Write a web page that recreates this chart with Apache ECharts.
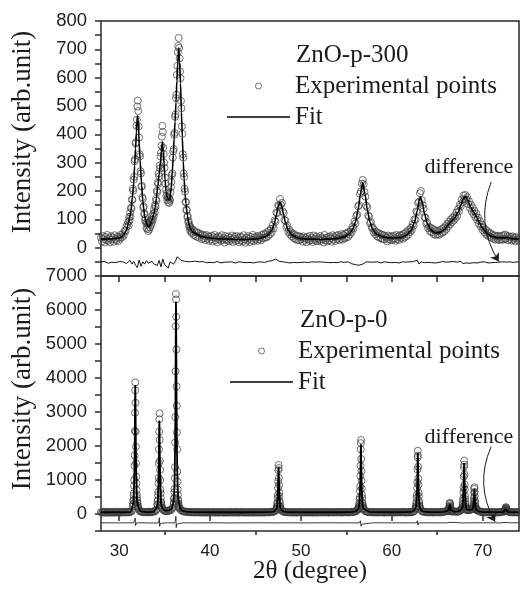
<!DOCTYPE html>
<html>
<head>
<meta charset="utf-8">
<title>ZnO XRD Rietveld fits</title>
<script src="https://cdn.jsdelivr.net/npm/echarts@6/dist/echarts.min.js"></script>
<style>
  html, body { margin: 0; padding: 0; background: #fff; }
  #chart { width: 520px; height: 590px; }
</style>
</head>
<body>
<div id="chart"></div>
<script>
// ---------------- ZnO-p-300 (upper panel) ----------------
// measured counts on a uniform 2θ grid, split into three scan segments
const p300ScanStart = [28.0, 31.0, 38.1];
const p300ScanStep = [0.1, 0.05, 0.1];
const p300ScanA = [
  35,22,41,30,18,38,27,45,24,33,
  19,40,29,36,21,44,31,26,39,23,
  37,31,46,36,48,42,60,58,74,82
];
const p300ScanB = [
  92,78,108,96,124,110,141,138,170,168,
  208,201,240,250,305,312,368,372,430,452,
  498,519,482,428,389,330,322,270,262,215,
  218,178,172,141,146,118,120,96,104,88,
  70,88,66,82,58,86,64,90,72,94,
  80,99,88,112,98,120,110,136,124,150,
  145,172,166,201,196,230,225,262,252,290,
  280,322,335,360,392,430,408,352,330,300,
  282,248,226,205,182,192,168,178,160,176,
  158,172,166,196,214,232,256,262,318,340,
  348,398,405,462,470,528,540,610,642,690,
  712,740,705,668,622,598,518,492,428,402,
  330,318,262,250,208,198,162,160,134,132,
  108,112,90,94,76,80,62,72,56,66,
  52
];
const p300ScanC = [
  64,45,58,41,55,38,52,35,49,44,
  30,46,33,42,27,45,31,40,24,38,
  29,42,22,36,45,26,34,19,40,30,
  37,24,44,28,33,18,41,30,25,39,
  22,35,28,43,20,32,38,24,41,27,
  34,19,40,26,36,22,44,29,17,35,
  25,41,31,20,38,27,45,23,36,30,
  39,24,42,29,37,26,45,33,48,35,
  48,36,55,41,60,47,66,55,80,68,
  96,92,124,122,150,148,172,152,158,128,
  122,98,95,72,78,56,64,46,55,40,
  50,34,46,30,42,27,41,26,39,29,
  36,21,40,28,34,19,38,30,24,42,
  27,35,20,43,31,25,39,22,33,28,
  41,24,36,30,18,45,27,34,22,38,
  26,40,33,21,44,29,37,24,42,31,
  45,27,40,31,48,28,44,33,50,36,
  52,38,56,46,63,55,74,68,92,85,
  112,116,146,150,190,198,226,239,224,196,
  180,148,142,114,110,86,90,70,72,55,
  62,47,55,40,52,36,49,33,46,30,
  44,29,41,35,22,43,30,38,26,40,
  28,42,33,24,45,30,39,27,44,35,
  44,31,48,36,52,40,58,46,63,55,
  70,62,84,78,100,98,128,125,158,162,
  192,200,168,150,138,108,106,84,88,68,
  74,58,70,54,66,48,62,45,60,47,
  58,45,62,50,66,54,70,58,76,66,
  84,74,92,82,100,90,106,96,112,104,
  124,112,136,128,152,146,170,160,184,172,
  186,170,178,154,164,140,152,128,142,118,
  130,108,120,98,106,84,94,74,82,62,
  72,54,64,47,58,42,54,38,50,35,
  45,31,43,28,40,30,42,27,39,29,
  42,28,44,30,46,32,41,26,40,30,
  38,25,40,29,35,22,37,26,34,28
];
// refined profile [2θ, intensity]
const p300Fit = [
  [28.0,30],[28.5,30],[29.0,31],[29.5,32],[30.0,35],[30.3,39],[30.6,50],[30.8,62],[31.0,85],[31.15,107],
  [31.3,130],[31.45,179],[31.6,228],[31.7,290],[31.8,350],[31.9,408],[32.0,465],[32.1,450],[32.2,370],[32.3,311],
  [32.45,228],[32.6,165],[32.7,138],[32.8,112],[32.9,98],[33.0,85],[33.2,74],[33.4,80],[33.6,96],[33.8,118],
  [33.95,140],[34.1,175],[34.25,218],[34.4,260],[34.55,303],[34.65,339],[34.75,374],[34.85,338],[34.95,294],[35.05,240],
  [35.15,199],[35.3,176],[35.45,169],[35.55,168],[35.65,188],[35.75,221],[35.85,270],[35.95,327],[36.05,385],[36.15,445],
  [36.25,512],[36.35,590],[36.45,655],[36.55,705],[36.65,655],[36.75,580],[36.85,480],[36.95,390],[37.05,305],[37.15,240],
  [37.25,190],[37.35,155],[37.5,115],[37.65,88],[37.8,70],[38.0,58],[38.3,52],[38.6,46],[39.0,40],[39.5,37],
  [40.0,34],[41,31],[42,30],[43,29],[44,29],[45,30],[45.5,33],[46.0,38],[46.4,46],[46.8,62],
  [47.1,88],[47.3,115],[47.5,145],[47.7,160],[47.9,145],[48.1,115],[48.3,88],[48.6,62],[49.0,45],[49.5,36],
  [50,32],[51,30],[52,29],[53,30],[54,32],[54.8,38],[55.3,48],[55.7,65],[56.0,90],[56.3,135],
  [56.55,190],[56.8,230],[57.05,190],[57.3,135],[57.6,90],[57.9,65],[58.3,48],[59.0,38],[60,34],[61,36],
  [61.6,44],[62.1,60],[62.5,90],[62.8,130],[63.0,165],[63.15,180],[63.35,160],[63.6,120],[63.9,85],[64.3,62],
  [64.8,52],[65.3,54],[65.8,64],[66.2,80],[66.5,92],[66.9,105],[67.3,125],[67.6,150],[67.85,172],[68.1,180],
  [68.35,168],[68.7,142],[69.0,125],[69.3,110],[69.6,90],[70.0,68],[70.5,50],[71.0,40],[71.6,35],[72.3,34],
  [72.6,36],[73,33],[73.5,31],[74,30]
];
// observed − calculated, drawn with an offset below the pattern (step 0.2° from 28°)
const p300DiffStart = 28.0;
const p300DiffStep = 0.2;
const p300Diff = [
  -50,-53,-49,-52,-55,-50,-51,-48,-53,-51,
  -49,-54,-50,-47,-56,-52,-45,-58,-48,-62,
  -70,-44,-66,-50,-58,-46,-55,-60,-48,-57,
  -52,-63,-45,-68,-40,-60,-56,-72,-50,-44,
  -58,-47,-32,-36,-45,-42,-48,-46,-50,-47,
  -49,-51,-48,-53,-50,-52,-49,-51,-53,-50,
  -52,-50,-53,-51,-49,-52,-54,-50,-51,-53,
  -51,-53,-50,-52,-54,-51,-50,-53,-52,-50,
  -53,-51,-52,-50,-54,-52,-51,-53,-50,-49,
  -52,-50,-48,-53,-46,-44,-40,-43,-48,-51,
  -50,-53,-52,-50,-54,-51,-52,-50,-53,-51,
  -52,-54,-51,-50,-53,-52,-50,-54,-51,-52,
  -50,-53,-51,-54,-52,-50,-53,-51,-52,-50,
  -53,-51,-50,-54,-52,-55,-50,-53,-57,-54,
  -60,-55,-62,-68,-58,-52,-50,-53,-51,-52,
  -51,-53,-50,-52,-54,-51,-50,-53,-52,-51,
  -53,-50,-52,-51,-54,-52,-50,-53,-51,-52,
  -50,-54,-49,-56,-44,-58,-50,-47,-53,-51,
  -52,-50,-53,-51,-54,-50,-52,-55,-49,-52,
  -51,-54,-50,-53,-49,-55,-51,-53,-48,-56,
  -50,-54,-49,-55,-51,-53,-50,-54,-52,-51,
  -53,-50,-52,-54,-51,-53,-50,-52,-54,-51,
  -52,-50,-53,-51,-52,-50,-53,-52,-51,-50,
  -52
];

// ---------------- ZnO-p-0 (lower panel) ----------------
// background scan, 0.1° steps from 28°; null where a reflection is scanned finely
const p0BgStart = 28.0;
const p0BgStep = 0.1;
const p0Background = [
  62,38,55,70,41,58,33,66,47,52,
  40,64,49,35,60,44,71,39,56,48,
  57,36,63,45,52,68,41,59,50,66,
  44,61,53,75,92,null,null,null,null,null,
  null,null,110,82,70,58,66,49,60,55,
  48,63,52,70,45,60,57,74,66,82,
  95,130,null,null,null,null,null,null,140,115,
  92,85,78,96,88,110,104,125,150,190,
  null,null,null,null,null,null,null,160,118,96,
  84,75,68,72,60,66,55,62,50,58,
  47,61,53,42,58,49,64,40,55,51,
  45,59,38,62,50,44,57,36,60,48,
  53,41,58,46,63,37,55,49,42,60,
  39,56,47,61,43,52,35,58,50,44,
  57,40,62,48,53,38,59,45,51,64,
  42,55,36,60,49,54,41,63,47,39,
  58,46,52,37,61,44,56,50,35,59,
  48,62,40,55,43,58,51,38,64,46,
  53,41,60,49,57,44,62,52,66,58,
  70,82,105,null,null,null,null,null,null,98,
  78,66,59,64,50,57,45,61,48,53,
  40,58,46,62,51,37,55,44,60,49,
  56,43,61,47,38,59,52,45,63,41,
  54,48,60,36,57,50,44,62,39,55,
  47,61,42,58,53,40,64,49,56,45,
  59,38,55,50,62,44,57,41,60,52,
  46,63,49,57,40,61,53,45,58,50,
  62,48,56,43,60,52,65,58,70,64,
  76,88,115,null,null,null,null,null,null,null,
  110,84,72,66,58,63,50,57,46,60,
  52,44,61,49,55,40,58,47,63,51,
  45,60,38,56,50,62,43,57,48,54,
  61,46,53,40,59,51,44,63,49,56,
  42,58,50,64,45,55,39,60,52,47,
  59,51,64,57,72,95,null,null,null,null,
  null,null,118,86,74,62,68,55,60,49,
  57,44,61,52,48,63,41,58,50,55,
  46,60,53,42,59,50,64,56,70,78,
  88,105,null,null,null,null,null,96,80,72,
  66,75,62,70,84,92,120,null,null,null,
  null,null,null,null,125,108,115,130,150,null,
  null,null,null,null,128,96,82,70,64,58,
  52,60,47,56,43,58,50,45,61,49,
  55,42,58,50,46,60,38,54,48,57,
  50,62,70,88,null,null,null,null,75,63,
  54,47,60,52,44,58,49,55,41,56,
  50
];
// fine scans (0.02° steps) across each wurtzite reflection
const p0PeakStep = 0.02;
const p0PeakStart = [31.50, 34.20, 36.00, 47.30, 56.30, 62.60, 66.20, 67.70, 68.90, 72.40];
const p0Peak100 = [225,290,300,395,410,540,610,830,1000,1420,1720,2440,2980,3640,3870,3270,2420,1980,1490,1100,900,700,560,480,410,330,310,240,230,190,170];
const p0Peak002 = [270,280,370,410,560,650,900,1060,1490,1900,2420,2785,2960,2180,1560,1300,1000,720,610,470,350,330,260,250,200,180];
const p0Peak101 = [290,350,440,470,640,740,1050,1380,2100,2850,4200,5520,6470,6310,5800,4840,3750,3180,2400,1900,1250,950,720,560,430,380,310,270,230,200,170];
const p0Peak102 = [125,160,165,210,230,300,340,470,550,760,960,1290,1440,1350,1060,850,630,520,380,330,240,220,170,170,135,120];
const p0Peak110 = [150,135,170,175,210,220,285,320,430,490,680,810,1120,1420,1900,2085,2175,1620,1260,980,750,560,470,340,300,240,230,180,175,150,140];
const p0Peak103 = [140,175,170,220,235,310,350,470,560,760,930,1310,1660,1860,1720,1390,1040,860,620,520,390,320,250,230,190,165];
const p0Peak200 = [85,80,105,100,140,150,195,220,290,330,310,250,210,160,145,110,105,85,88,70,76];
const p0Peak112 = [120,155,150,190,205,265,300,400,470,640,780,1100,1380,1570,1450,1160,870,720,530,440,330,280,215,200,165,160,130,135,118,125,112];
const p0Peak201 = [145,150,178,190,240,275,380,470,620,740,785,650,520,390,330,245,210,160,150,120,118];
const p0Peak004 = [78,70,88,85,112,120,155,170,200,190,150,140,108,100,80,84];
const p0Peaks = [p0Peak100, p0Peak002, p0Peak101, p0Peak102, p0Peak110, p0Peak103, p0Peak200, p0Peak112, p0Peak201, p0Peak004];

const p0Fit = [
  [28,52],[29,51],[30,52],[31,55],[31.3,65],
  [31.47,218],[31.57,387],[31.63,723],[31.67,1172],[31.70,1770],[31.73,2668],[31.75,3416],[31.77,3790],[31.79,3491],[31.81,2855],[31.84,1920],[31.87,1322],[31.91,798],[31.97,424],[32.07,237],
  [32.3,80],[33,58],[33.8,65],
  [34.12,172],[34.22,293],[34.28,536],[34.32,860],[34.35,1292],[34.38,1940],[34.40,2480],[34.42,2750],[34.44,2534],[34.46,2075],[34.49,1400],[34.52,968],[34.56,590],[34.62,320],[34.72,185],
  [35.0,95],[35.5,105],[35.8,160],
  [35.95,329],[36.05,608],[36.11,1166],[36.15,1910],[36.18,2902],[36.21,4390],[36.23,5630],[36.25,6250],[36.27,5754],[36.29,4700],[36.32,3150],[36.35,2158],[36.39,1290],[36.45,670],[36.55,360],
  [36.7,165],[36.9,100],[37.3,70],[38,55],[40,52],[42,52],[44,52],[46,54],[46.8,62],[47.1,80],
  [47.24,110],[47.34,170],[47.40,289],[47.44,449],[47.47,662],[47.50,981],[47.52,1247],[47.54,1380],[47.56,1274],[47.58,1048],[47.61,715],[47.64,502],[47.68,316],[47.74,183],[47.84,117],
  [48.1,70],[48.6,57],[50,52],[52,52],[54,52],[55.5,58],[56.0,75],[56.2,105],
  [56.30,140],[56.40,230],[56.46,410],[56.50,650],[56.53,970],[56.56,1450],[56.58,1850],[56.60,2050],[56.62,1890],[56.64,1550],[56.67,1050],[56.70,730],[56.74,450],[56.80,250],[56.90,150],
  [57.1,95],[57.5,65],[58.5,54],[60,52],[61.5,54],[62.2,66],[62.45,95],
  [62.56,129],[62.66,208],[62.72,365],[62.76,575],[62.79,855],[62.82,1275],[62.84,1625],[62.86,1800],[62.88,1660],[62.90,1363],[62.93,925],[62.96,645],[63.00,400],[63.06,225],[63.16,138],
  [63.4,80],[64,58],[65,55],[65.7,63],[65.95,78],
  [66.10,90],[66.24,110],[66.30,150],[66.34,225],[66.38,300],[66.42,238],[66.46,165],[66.52,105],[66.66,85],
  [66.9,72],[67.3,78],[67.55,105],
  [67.66,118],[67.76,181],[67.82,311],[67.86,485],[67.89,717],[67.92,1065],[67.94,1355],[67.96,1500],[67.98,1384],[68.00,1138],[68.03,775],[68.06,543],[68.10,340],[68.16,200],[68.26,135],
  [68.45,118],[68.65,120],
  [68.79,130],[68.89,145],[68.95,180],[68.99,257],[69.02,367],[69.05,533],[69.07,671],[69.09,740],[69.11,685],[69.13,568],[69.16,395],[69.19,285],[69.23,188],[69.29,125],[69.39,95],
  [69.6,68],[70,58],[71,53],[72,55],[72.3,62],
  [72.42,75],[72.48,105],[72.52,148],[72.56,190],[72.60,155],[72.66,98],[72.76,64],
  [72.86,56],[73.5,52],[74,52]
];
const p0Diff = [
  [28,-262],[29,-258],[30,-263],[31,-259],[31.6,-262],[31.72,-225],[31.76,-120],[31.8,-340],[31.84,-290],[31.9,-262],
  [32.5,-258],[33.5,-266],[34.3,-262],[34.38,-200],[34.42,-110],[34.46,-360],[34.52,-275],[34.6,-262],[35.3,-258],
  [36.1,-262],[36.2,-190],[36.24,-70],[36.28,-400],[36.32,-300],[36.4,-262],[37,-258],[38,-262],[40,-259],[42,-263],
  [44,-260],[46,-258],[47.4,-262],[47.52,-215],[47.56,-300],[47.62,-262],[49,-259],[51,-262],[53,-258],[55,-261],
  [56.4,-262],[56.55,-200],[56.62,-360],[56.68,-300],[56.8,-262],[58,-258],[60,-261],[62,-259],[62.7,-262],
  [62.82,-200],[62.88,-330],[62.95,-262],[64,-259],[66,-262],[66.4,-245],[66.5,-265],[67.8,-262],[67.94,-205],
  [67.99,-320],[68.05,-262],[69.0,-258],[69.08,-225],[69.13,-290],[69.2,-262],[70,-260],[71,-258],[72,-262],
  [72.56,-245],[72.62,-270],[73,-260],[74,-259]
];

// axis ticks and labels
const thetaMin = 28, thetaMax = 74;
const thetaLabels = [30, 40, 50, 60, 70];
const thetaMinor = [35, 45, 55, 65];
const thetaInner = [30, 35, 40, 45, 50, 55, 60, 65, 70];

// annotation arrows for the difference curves, [start, end] in data units
const p300DiffArrow = [[70.93, 231], [71.77, -49]];
const p0DiffArrow = [[70.93, 1979], [71.37, -226]];

// ---------- helpers ----------
function scanPoints(start, step, counts) {
  const out = [];
  counts.forEach((c, i) => {
    if (c !== null) out.push([+(start + i * step).toFixed(2), c]);
  });
  return out;
}
const p300Points = []
  .concat(scanPoints(p300ScanStart[0], p300ScanStep[0], p300ScanA))
  .concat(scanPoints(p300ScanStart[1], p300ScanStep[1], p300ScanB))
  .concat(scanPoints(p300ScanStart[2], p300ScanStep[2], p300ScanC));
const p300DiffPoints = scanPoints(p300DiffStart, p300DiffStep, p300Diff);

let p0Points = scanPoints(p0BgStart, p0BgStep, p0Background);
p0Peaks.forEach((arr, k) => { p0Points = p0Points.concat(scanPoints(p0PeakStart[k], p0PeakStep, arr)); });
p0Points.sort((a, b) => a[0] - b[0]);

const SERIF = '"Liberation Serif", "Times New Roman", Times, serif';
const SANS = '"Liberation Sans", Arial, Helvetica, sans-serif';
const INK = '#1c1c1c';
const FRAME = '#2a2a2a';
const CIRCLE = '#3c3c3c';

const chart = echarts.init(document.getElementById('chart'), null, { renderer: 'canvas' });

const expStyle = { color: 'rgba(0,0,0,0)', borderColor: CIRCLE, borderWidth: 0.9 };

const legendBase = {
  orient: 'vertical',
  itemWidth: 63,
  itemHeight: 6,
  itemGap: 3,
  padding: 0,
  selectedMode: false,
  symbolKeepAspect: true,
  textStyle: { fontFamily: SERIF, fontSize: 25, color: INK, lineHeight: 28 },
  data: [
    { name: 'Experimental points', icon: 'circle',
      itemStyle: { color: 'rgba(0,0,0,0)', borderColor: CIRCLE, borderWidth: 0.9 } },
    { name: 'Fit', icon: 'path://M0,0H63V1.6H0Z',
      itemStyle: { color: '#000', borderWidth: 0 } }
  ]
};

chart.setOption({
  animation: false,
  backgroundColor: '#fff',
  title: [
    { text: 'ZnO-p-300', left: 296, top: 41, padding: 0,
      textStyle: { fontFamily: SERIF, fontSize: 25, fontWeight: 'normal', color: INK, lineHeight: 28 } },
    { text: 'ZnO-p-0', left: 300, top: 306, padding: 0,
      textStyle: { fontFamily: SERIF, fontSize: 25, fontWeight: 'normal', color: INK, lineHeight: 28 } }
  ],
  legend: [
    Object.assign({}, legendBase, { left: 227, top: 72 }),
    Object.assign({}, legendBase, { left: 230, top: 337 })
  ],
  grid: [
    { left: 101, right: 1, top: 21, height: 255, show: true, borderColor: FRAME, borderWidth: 1.5,
      backgroundColor: 'transparent', outerBoundsMode: 'none' },
    { left: 101, right: 1, top: 276, height: 255, show: true, borderColor: FRAME, borderWidth: 1.5,
      backgroundColor: 'transparent', outerBoundsMode: 'none' }
  ],
  xAxis: [
    { gridIndex: 0, type: 'value', min: thetaMin, max: thetaMax, show: false },
    { gridIndex: 1, type: 'value', min: thetaMin, max: thetaMax, position: 'bottom',
      axisLine: { show: false },
      axisTick: { show: true, inside: false, length: 7, customValues: thetaLabels,
        lineStyle: { color: FRAME, width: 1.5 } },
      axisLabel: { show: true, customValues: thetaLabels, margin: 12,
        fontFamily: SANS, fontSize: 17, color: INK },
      splitLine: { show: false } },
    { gridIndex: 1, type: 'value', min: thetaMin, max: thetaMax, position: 'bottom',
      axisLine: { show: false },
      axisTick: { show: true, inside: false, length: 4, customValues: thetaMinor,
        lineStyle: { color: FRAME, width: 1.5 } },
      axisLabel: { show: false }, splitLine: { show: false } },
    { gridIndex: 1, type: 'value', min: thetaMin, max: thetaMax, position: 'top',
      axisLine: { show: false },
      axisTick: { show: true, inside: true, length: 6, customValues: thetaInner,
        lineStyle: { color: FRAME, width: 1.5 } },
      axisLabel: { show: false }, splitLine: { show: false } }
  ],
  yAxis: [
    { gridIndex: 0, type: 'value', min: -100, max: 800, interval: 50,
      axisLine: { show: false },
      axisTick: { show: true, inside: false, length: 6, lineStyle: { color: FRAME, width: 1.5 } },
      axisLabel: { margin: 14, fontFamily: SANS, fontSize: 18.5, color: INK,
        formatter: v => (v >= 0 && v % 100 === 0) ? String(v) : '' },
      splitLine: { show: false } },
    { gridIndex: 1, type: 'value', min: -500, max: 7000, interval: 500,
      axisLine: { show: false },
      axisTick: { show: true, inside: false, length: 6, lineStyle: { color: FRAME, width: 1.5 } },
      axisLabel: { margin: 14, fontFamily: SANS, fontSize: 18.5, color: INK,
        formatter: v => (v >= 0 && v % 1000 === 0) ? String(v) : '' },
      splitLine: { show: false } }
  ],
  series: [
    { name: 'Experimental points', type: 'scatter', xAxisIndex: 0, yAxisIndex: 0,
      data: p300Points, symbol: 'circle', symbolSize: 7, itemStyle: expStyle, z: 2 },
    { name: 'Fit', type: 'line', xAxisIndex: 0, yAxisIndex: 0, data: p300Fit,
      symbol: 'none', showSymbol: false, smooth: 0.25, smoothMonotone: 'x',
      color: '#000', itemStyle: { color: '#000' },
      lineStyle: { color: '#000', width: 1.6 }, z: 3 },
    { name: 'difference', type: 'line', xAxisIndex: 0, yAxisIndex: 0, data: p300DiffPoints,
      symbol: 'none', showSymbol: false, lineStyle: { color: '#111', width: 1 }, z: 3 },
    { name: 'difference-arrow', type: 'lines', coordinateSystem: 'cartesian2d',
      xAxisIndex: 0, yAxisIndex: 0, silent: true, symbol: ['none', 'arrow'], symbolSize: 8,
      lineStyle: { color: INK, width: 1, curveness: -0.25, opacity: 1 },
      data: [{ coords: p300DiffArrow }], z: 4 },

    { name: 'Experimental points', type: 'scatter', xAxisIndex: 1, yAxisIndex: 1,
      data: p0Points, symbol: 'circle', symbolSize: 7, itemStyle: expStyle, z: 2 },
    { name: 'Fit', type: 'line', xAxisIndex: 1, yAxisIndex: 1, data: p0Fit,
      symbol: 'none', showSymbol: false,
      color: '#000', itemStyle: { color: '#000' },
      lineStyle: { color: '#000', width: 1.8 }, z: 3 },
    { name: 'difference', type: 'line', xAxisIndex: 1, yAxisIndex: 1, data: p0Diff,
      symbol: 'none', showSymbol: false, lineStyle: { color: '#222', width: 0.9 }, z: 3 },
    { name: 'difference-arrow', type: 'lines', coordinateSystem: 'cartesian2d',
      xAxisIndex: 1, yAxisIndex: 1, silent: true, symbol: ['none', 'arrow'], symbolSize: 8,
      lineStyle: { color: INK, width: 1, curveness: -0.25, opacity: 1 },
      data: [{ coords: p0DiffArrow }], z: 4 }
  ],
  graphic: [
    { type: 'text', x: 23, y: 132, rotation: Math.PI / 2, silent: true,
      style: { text: 'Intensity (arb.unit)', font: '27px ' + SERIF, fill: INK,
        align: 'center', verticalAlign: 'middle', textAlign: 'center', textVerticalAlign: 'middle' } },
    { type: 'text', x: 23, y: 389, rotation: Math.PI / 2, silent: true,
      style: { text: 'Intensity (arb.unit)', font: '27px ' + SERIF, fill: INK,
        align: 'center', verticalAlign: 'middle', textAlign: 'center', textVerticalAlign: 'middle' } },
    { type: 'text', x: 310, y: 571, silent: true,
      style: { text: '2θ (degree)', font: '25px ' + SERIF, fill: INK,
        align: 'center', verticalAlign: 'middle', textAlign: 'center', textVerticalAlign: 'middle' } },
    { type: 'text', x: 469, y: 167, silent: true,
      style: { text: 'difference', font: '22px ' + SERIF, fill: INK,
        align: 'center', verticalAlign: 'middle', textAlign: 'center', textVerticalAlign: 'middle' } },
    { type: 'text', x: 469, y: 437, silent: true,
      style: { text: 'difference', font: '22px ' + SERIF, fill: INK,
        align: 'center', verticalAlign: 'middle', textAlign: 'center', textVerticalAlign: 'middle' } }
  ]
});
</script>
</body>
</html>
